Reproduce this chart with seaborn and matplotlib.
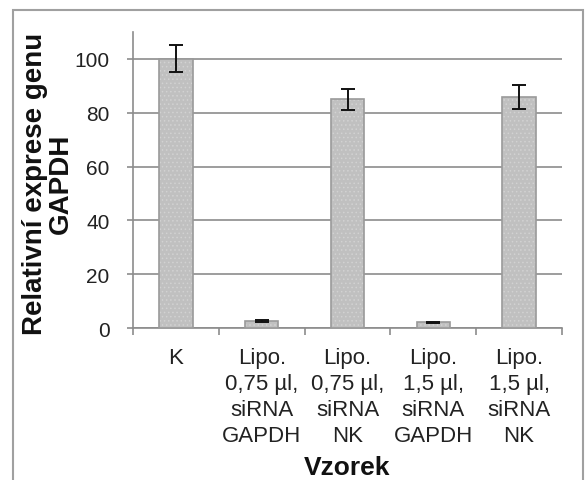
import matplotlib
matplotlib.use("Agg")
import matplotlib.pyplot as plt
import seaborn as sns
import pandas as pd
from matplotlib.patches import Rectangle

# Sample groups, relative GAPDH expression and its error
categories = [
    "K",
    "Lipo.\n0,75 µl,\nsiRNA\nGAPDH",
    "Lipo.\n0,75 µl,\nsiRNA\nNK",
    "Lipo.\n1,5 µl,\nsiRNA\nGAPDH",
    "Lipo.\n1,5 µl,\nsiRNA\nNK",
]
values = [100.0, 2.7, 85.0, 2.1, 85.7]
errors = [5.0, 0.3, 4.0, 0.3, 4.5]
yticks = [0, 20, 40, 60, 80, 100]

df = pd.DataFrame({"Vzorek": categories, "expr": values})

sns.set_style("white")
plt.rcParams["font.family"] = ["Liberation Sans", "DejaVu Sans"]
plt.rcParams["hatch.linewidth"] = 0.6

fig = plt.figure(figsize=(5.85, 4.81), dpi=100)
ax = fig.add_axes([0.2274, 0.316, 0.9607 - 0.2274, 0.9314 - 0.316])

# Dotted grey fill, then the bar outlines on top
sns.barplot(data=df, x="Vzorek", y="expr", order=categories, errorbar=None,
            color="#c0c0c0", saturation=1, width=0.39, hatch="....",
            edgecolor="#d2d2d2", linewidth=0, ax=ax, zorder=3)
sns.barplot(data=df, x="Vzorek", y="expr", order=categories, errorbar=None,
            fill=False, color="#9a9a9a", width=0.39,
            edgecolor="#9a9a9a", linewidth=1.2, ax=ax, zorder=3.1)

ax.errorbar(x=list(range(len(categories))), y=values, yerr=errors,
            fmt="none", ecolor="#111111", elinewidth=1.4, capsize=5,
            capthick=1.4, zorder=4)

ax.set_xlim(-0.5, len(categories) - 0.5)
ax.set_ylim(0, 110)
ax.set_yticks(yticks)
ax.yaxis.grid(True, color="#8c8c8c", linewidth=1.2, zorder=0)
ax.set_axisbelow(True)

for side in ("top", "right"):
    ax.spines[side].set_visible(False)
for side in ("left", "bottom"):
    ax.spines[side].set_color("#8c8c8c")
    ax.spines[side].set_linewidth(1.2)

ax.tick_params(axis="y", which="major", left=True, length=4, width=1.2,
               color="#8c8c8c", pad=13, labelsize=15, labelcolor="#222222")
# Category boundaries carry the tick marks, labels sit at the centres
ax.set_xticks([i - 0.5 for i in range(len(categories) + 1)], minor=True)
ax.tick_params(axis="x", which="minor", bottom=True, length=5, width=1.2,
               color="#8c8c8c")
ax.tick_params(axis="x", which="major", bottom=False, length=0, pad=14,
               labelsize=16, labelcolor="#222222")
for lab in ax.get_xticklabels():
    lab.set_linespacing(1.3)
    lab.set_verticalalignment("top")

ax.set_xlabel("Vzorek", fontsize=19, fontweight="bold", color="#111111")
ax.xaxis.set_label_coords(0.5, -0.47)
ax.xaxis.label.set_verticalalignment("center")
ax.set_ylabel("Relativní exprese genu\nGAPDH", fontsize=20,
              fontweight="bold", color="#111111", linespacing=1.0)
ax.yaxis.set_label_coords(-0.198, 0.49)
ax.yaxis.label.set_verticalalignment("center")

# Frame around the chart area
frame = Rectangle((13 / 585, -0.2), (583 - 13) / 585, 1.2 - 11 / 481,
                  transform=fig.transFigure, fill=False,
                  edgecolor="#a0a0a0", linewidth=1.5, clip_on=False)
fig.patches.append(frame)

fig.savefig("out.png", dpi=100)
